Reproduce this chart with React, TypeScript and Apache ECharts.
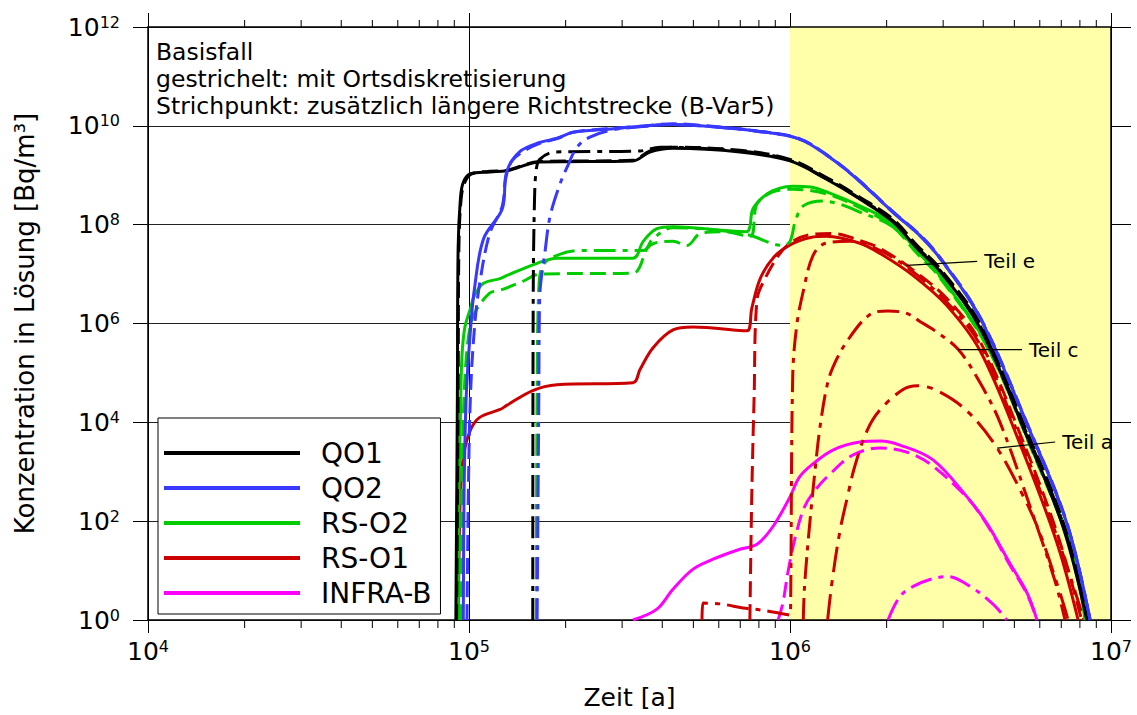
import React, { useEffect, useRef } from "react";
import * as echarts from "echarts";

const FONT = "'DejaVu Sans', sans-serif";

// Zeit [a] / Konzentration in Lösung [Bq/m³]
// QO1
const qo1Basis = [[9.1e4, 1], [9.2e4, 3.2e4], [9.25e4, 3.3e7], [9.4e4, 3.3e8], [9.6e4, 7.2e8], [1.01e5, 1.07e9], [1.16e5, 1.17e9], [1.31e5, 1.23e9], [1.66e5, 1.86e9], [3.24e5, 1.95e9], [3.66e5, 2.95e9], [4.32e5, 3.5e9], [6.98e5, 2.95e9], [1e6, 1.95e9], [1.3e6, 8.3e8], [1.65e6, 3.3e8], [2.09e6, 1.15e8], [2.49e6, 3.3e7], [2.93e6, 1.15e7], [3.91e6, 8.1e5], [5.32e6, 8000], [7.08e6, 78], [8.41e6, 1]];
const qo1Ort = [[9.15e4, 1], [9.25e4, 3.2e4], [9.3e4, 3.3e7], [9.45e4, 3.3e8], [9.7e4, 7.2e8], [1.02e5, 1.07e9], [1.16e5, 1.2e9], [1.31e5, 1.26e9], [1.66e5, 1.9e9], [3.24e5, 2.0e9], [3.66e5, 3.1e9], [4.32e5, 3.7e9], [6.98e5, 3.2e9], [1e6, 2.1e9], [1.3e6, 9e8], [1.65e6, 3.6e8], [2.09e6, 1.3e8], [2.49e6, 3.8e7], [2.93e6, 1.3e7], [3.91e6, 1e6], [5.32e6, 1e4], [7.08e6, 100], [8.5e6, 1]];
const qo1Var5 = [[1.58e5, 1], [1.585e5, 3.2e6], [1.6e5, 3.3e8], [1.62e5, 1.3e9], [1.66e5, 2.1e9], [1.85e5, 2.95e9], [3.41e5, 3.1e9], [3.94e5, 3.7e9], [5.25e5, 3.5e9], [7.5e5, 2.95e9], [1e6, 2.0e9], [1.3e6, 8.5e8], [1.65e6, 3.4e8], [2.09e6, 1.2e8], [2.49e6, 3.5e7], [2.93e6, 1.2e7], [3.91e6, 9e5], [5.32e6, 9000], [7.08e6, 90], [8.45e6, 1]];

// QO2
const qo2Basis = [[9.6e4, 1], [9.65e4, 310], [9.8e4, 3.2e4], [1.01e5, 7.1e5], [1.04e5, 5.1e6], [1.11e5, 5.2e7], [1.27e5, 2.1e8], [1.31e5, 1.17e9], [1.44e5, 3e9], [1.66e5, 4.6e9], [1.88e5, 5.6e9], [2.11e5, 7.4e9], [2.69e5, 8.5e9], [4.32e5, 1.07e10], [5.51e5, 9.8e9], [7.89e5, 7.8e9], [1.07e6, 5.4e9], [1.33e6, 2.3e9], [1.62e6, 8.3e8], [2.09e6, 1.8e8], [2.54e6, 6e7], [2.93e6, 2.1e7], [3.91e6, 1.3e6], [5.48e6, 9100], [7.29e6, 89], [8.61e6, 1]];
const qo2Ort = [[9.86e4, 1], [9.95e4, 310], [1.01e5, 3.2e4], [1.04e5, 8.1e5], [1.08e5, 6.5e6], [1.16e5, 6.6e7], [1.27e5, 2.4e8], [1.3e5, 8.3e8], [1.36e5, 1.95e9], [1.5e5, 3.2e9], [1.66e5, 4.4e9], [1.88e5, 5.5e9], [2.11e5, 7.4e9], [2.69e5, 8.7e9], [3.41e5, 9.8e9], [4.32e5, 1.1e10], [5.51e5, 1.0e10], [7.89e5, 7.9e9], [1.07e6, 5.5e9], [1.33e6, 2.35e9], [1.62e6, 8.5e8], [2.09e6, 1.85e8], [2.54e6, 6.2e7], [2.93e6, 2.2e7], [3.91e6, 1.35e6], [5.48e6, 9500], [7.29e6, 92], [8.61e6, 1]];
const qo2Var5 = [[1.63e5, 1], [1.65e5, 3.2e4], [1.66e5, 3.2e6], [1.73e5, 3.3e7], [1.79e5, 1.5e8], [1.92e5, 6.6e8], [2.03e5, 1.55e9], [2.17e5, 3.7e9], [2.38e5, 5.9e9], [2.75e5, 8.1e9], [3.41e5, 9.6e9], [4.32e5, 1.07e10], [5.51e5, 9.8e9], [7.89e5, 7.8e9], [1.07e6, 5.4e9], [1.33e6, 2.3e9], [1.62e6, 8.3e8], [2.09e6, 1.8e8], [2.54e6, 6e7], [2.93e6, 2.1e7], [3.91e6, 1.3e6], [5.48e6, 9100], [7.29e6, 89], [8.61e6, 1]];

// RS-O2
const rso2Basis = [[9.25e4, 1], [9.3e4, 310], [9.4e4, 1.26e4], [9.5e4, 2e5], [9.7e4, 8.1e5], [1.01e5, 2e6], [1.04e5, 3.7e6], [1.11e5, 6.5e6], [1.25e5, 8.1e6], [1.31e5, 9.3e6], [1.63e5, 1.65e7], [1.88e5, 2.1e7], [3.24e5, 2.1e7], [3.49e5, 4.6e7], [3.85e5, 8.3e7], [4.32e5, 9.1e7], [7.34e5, 7.2e7], [7.5e5, 9.1e7], [7.67e5, 2.1e8], [8.48e5, 4.2e8], [9.3e5, 5.5e8], [1.02e6, 6e8], [1.16e6, 5.8e8], [1.3e6, 4.6e8], [1.65e6, 2.4e8], [2.09e6, 1.05e8], [2.49e6, 2.9e7], [2.93e6, 9.3e6], [4.11e6, 3.7e5], [5.6e6, 3600], [7.45e6, 35], [8.3e6, 1]];
const rso2Ort = [[9.44e4, 1], [9.5e4, 310], [9.65e4, 3.2e4], [9.95e4, 5.1e5], [1.04e5, 1.6e6], [1.16e5, 4.1e6], [1.25e5, 4.7e6], [1.47e5, 7.1e6], [1.66e5, 1e7], [3.24e5, 1.05e7], [3.66e5, 3.8e7], [4.32e5, 4.6e7], [4.78e5, 3.8e7], [5.25e5, 6.6e7], [6.18e5, 7.2e7], [7.5e5, 5.8e7], [7.89e5, 2.6e8], [8.85e5, 4.6e8], [1.02e6, 5.2e8], [1.3e6, 4.2e8], [1.65e6, 2.2e8], [2.09e6, 9.1e7], [2.49e6, 2.6e7], [2.93e6, 8.5e6], [4.11e6, 3.4e5], [5.6e6, 3300], [7.45e6, 32], [8.35e6, 1]];
const rso2Var5 = [[1.62e5, 1], [1.63e5, 3.2e4], [1.65e5, 5.1e6], [1.7e5, 1.5e7], [1.88e5, 2.4e7], [2.22e5, 3e7], [3.49e5, 3e7], [3.74e5, 5.2e7], [4.32e5, 8.7e7], [5.25e5, 8.3e7], [7.34e5, 6.3e7], [9.5e5, 3.8e7], [1e6, 4.6e7], [1.04e6, 1.2e8], [1.1e6, 2.4e8], [1.27e6, 3e8], [1.43e6, 2.6e8], [1.65e6, 1.8e8], [2.09e6, 9.1e7], [2.49e6, 2.9e7], [2.93e6, 8.9e6], [4.11e6, 3.5e5], [5.6e6, 3500], [7.45e6, 34], [8.35e6, 1]];

// RS-O1
const rso1Basis = [[9.25e4, 1], [9.31e4, 19], [9.4e4, 310], [9.6e4, 2000], [1.01e5, 6900], [1.08e5, 1.26e4], [1.25e5, 1.82e4], [1.31e5, 2.2e4], [1.58e5, 4.4e4], [1.88e5, 5.75e4], [3.24e5, 6.3e4], [3.41e5, 1.17e5], [3.74e5, 3.2e5], [4.32e5, 7.4e5], [4.99e5, 8.5e5], [7.34e5, 7.1e5], [7.6e5, 2e6], [8.07e5, 8e6], [8.85e5, 2.1e7], [1e6, 3.9e7], [1.16e6, 5.5e7], [1.3e6, 5.8e7], [1.65e6, 4.2e7], [1.91e6, 2.6e7], [2.42e6, 9.3e6], [3.08e6, 2.3e6], [3.91e6, 2.8e5], [5.21e6, 3600], [6.8e6, 35], [7.9e6, 1]];
const rso1Ort = [[7.5e5, 1], [7.6e5, 310], [7.73e5, 3.2e4], [7.89e5, 3e6], [8.36e5, 8.1e6], [9.3e5, 2.6e7], [1.02e6, 4.6e7], [1.16e6, 6.3e7], [1.36e6, 6.6e7], [1.65e6, 4.8e7], [1.91e6, 3.3e7], [2.42e6, 1.2e7], [3.08e6, 3.2e6], [3.91e6, 4.3e5], [5.21e6, 5800], [6.8e6, 56], [8.1e6, 1]];
const rso1Var5 = [[5.32e5, 1], [5.36e5, 2.2], [6.14e5, 2.1], [7.14e5, 1.75], [8.07e5, 1.6], [1e6, 1.26], [1.005e6, 3], [1.02e6, 9.1e4], [1.05e6, 9.3e5], [1.1e6, 4.5e6], [1.18e6, 2.4e7], [1.29e6, 4.2e7], [1.54e6, 4.6e7], [1.91e6, 3e7], [2.42e6, 1.1e7], [3.08e6, 2.7e6], [3.91e6, 3.7e5], [5.21e6, 4600], [6.8e6, 47], [8.24e6, 1]];
const rso1TeilC = [[1.1e6, 1], [1.11e6, 4.8], [1.15e6, 78], [1.2e6, 1260], [1.24e6, 8000], [1.3e6, 5e4], [1.36e6, 1.3e5], [1.51e6, 4.5e5], [1.77e6, 1.5e6], [2.02e6, 1.8e6], [2.31e6, 1.6e6], [2.54e6, 1.1e6], [2.83e6, 7.1e5], [3.34e6, 3e5], [3.91e6, 6.3e4], [4.51e6, 1e4], [5.6e6, 195], [6.7e6, 6], [7.19e6, 1]];
const rso1TeilA = [[1.31e6, 1], [1.35e6, 5.5], [1.43e6, 62], [1.51e6, 310], [1.59e6, 1260], [1.74e6, 6900], [1.91e6, 1.8e4], [2.25e6, 4.6e4], [2.49e6, 5.5e4], [2.87e6, 4.4e4], [3.56e6, 1.7e4], [4.42e6, 3000], [5.4e6, 270], [6.01e6, 56], [6.94e6, 3.5], [7.35e6, 1]];

// INFRA-B
const infraBasis = [[3.24e5, 1], [3.85e5, 1.66], [4.32e5, 4.2], [4.99e5, 10.7], [5.76e5, 17], [6.98e5, 27], [7.89e5, 34], [8.85e5, 78], [1e6, 310], [1.07e6, 780], [1.18e6, 1450], [1.36e6, 2750], [1.65e6, 4000], [1.91e6, 4170], [2.2e6, 3470], [2.79e6, 1740], [3.56e6, 310], [4.11e6, 89], [4.84e6, 14], [5.48e6, 3.5], [5.88e6, 1]];
const infraOrt = [[9.18e5, 1], [9.5e5, 2.2], [9.86e5, 9.5], [1.04e6, 49], [1.11e6, 195], [1.2e6, 430], [1.33e6, 890], [1.57e6, 2180], [1.91e6, 3020], [2.31e6, 2500], [2.73e6, 1440], [3.56e6, 300], [4.11e6, 85], [4.84e6, 13], [5.48e6, 3.3], [5.88e6, 1]];
const infraVar5 = [[2.02e6, 1], [2.2e6, 3], [2.42e6, 4.8], [2.73e6, 6.6], [3.1e6, 7.6], [3.64e6, 4.8], [4.29e6, 2.1], [4.74e6, 1]];

const legendNames = ["QO1", "QO2", "RS-O2", "RS-O1", "INFRA-B"];
const colors = { QO1: "#000000", QO2: "#3838ff", "RS-O2": "#00cc00", "RS-O1": "#cc0000", "INFRA-B": "#ff00ff" };

const timeRange = [1e4, 1e7];
const concRange = [1, 1e12];
const shadedRange = [1e6, 1e7];
const minorTimes = [2e4, 3e4, 4e4, 5e4, 6e4, 7e4, 8e4, 9e4, 2e5, 3e5, 4e5, 5e5, 6e5, 7e5, 8e5, 9e5, 2e6, 3e6, 4e6, 5e6, 6e6, 7e6, 8e6, 9e6];

const noteLines = ["Basisfall", "gestrichelt: mit Ortsdiskretisierung", "Strichpunkt: zusätzlich längere Richtstrecke (B-Var5)"];
const teilNames = ["Teil e", "Teil c", "Teil a"];
// leader: from [t, c] on the curve to [t, c] at the label
const teilLeaders = [[2.31e6, 1.5e7, 3.83e6, 1.8e7], [3.34e6, 2.95e5, 5.28e6, 2.95e5], [4.42e6, 3000, 6.7e6, 4000]];

const DASHED = [16, 7];
const DASHDOT = [22, 7, 5, 7];
const LONGDASHDOT = [26, 8, 6, 8];

function curve(name: string, data: number[][], color: string, dash: any) {
  return {
    type: "line",
    name,
    data,
    color,
    symbol: "none",
    showSymbol: false,
    smooth: 0.35,
    silent: true,
    z: 2,
    lineStyle: { color, width: 3, type: dash, cap: "butt", join: "round" },
  };
}

const expLabel = {
  formatter: (v: number) => `{b|10}{e|${Math.round(Math.log10(v))}}`,
  rich: {
    b: { fontSize: 25, fontFamily: FONT, color: "#000", lineHeight: 26 },
    e: { fontSize: 16, fontFamily: FONT, color: "#000", lineHeight: 16, verticalAlign: "top" },
  },
};

export default function App() {
  const ref = useRef<HTMLDivElement>(null);

  useEffect(() => {
    const chart = echarts.init(ref.current!, undefined, { renderer: "svg" });
    const axisLine = { show: true, lineStyle: { color: "#000", width: 1.5 } };
    const option: any = {
      animation: false,
      backgroundColor: "#fff",
      grid: { left: 148, right: 26, top: 27, bottom: 91, containLabel: false },
      xAxis: [
        {
          type: "log", logBase: 10, min: timeRange[0], max: timeRange[1], position: "bottom", z: 1,
          name: "Zeit [a]", nameLocation: "middle", nameGap: 65,
          nameTextStyle: { fontSize: 25, fontFamily: FONT, color: "#000" },
          axisLine, axisTick: { show: true, length: 13, lineStyle: { color: "#000", width: 1 } },
          axisLabel: { ...expLabel, margin: 18 },
          splitLine: { show: true, lineStyle: { color: "#000", width: 1 } },
          minorTick: { show: false }, minorSplitLine: { show: false },
        },
        {
          type: "log", logBase: 10, min: timeRange[0], max: timeRange[1], position: "top", z: 1,
          axisLine, axisTick: { show: true, length: 14, lineStyle: { color: "#000", width: 1 } },
          axisLabel: { show: false }, splitLine: { show: false },
        },
      ],
      yAxis: [
        {
          type: "log", logBase: 100, min: concRange[0], max: concRange[1], position: "left", z: 1,
          name: "Konzentration in Lösung [Bq/m³]", nameLocation: "middle", nameGap: 110,
          nameTextStyle: { fontSize: 26, fontFamily: FONT, color: "#000" },
          axisLine, axisTick: { show: true, length: 15, lineStyle: { color: "#000", width: 1 } },
          axisLabel: { ...expLabel, margin: 28 },
          splitLine: { show: true, lineStyle: { color: "#222", width: 1 } },
        },
        {
          type: "log", logBase: 100, min: concRange[0], max: concRange[1], position: "right", z: 1,
          axisLine, axisTick: { show: true, length: 20, lineStyle: { color: "#000", width: 1 } },
          axisLabel: { show: false }, splitLine: { show: false },
        },
      ],
      legend: {
        data: legendNames,
        orient: "vertical", left: 158, top: 418,
        icon: "rect", itemWidth: 136, itemHeight: 4, itemGap: 5,
        padding: [20, 9, 6, 6],
        backgroundColor: "#fff", borderColor: "#000", borderWidth: 1,
        selectedMode: false, z: 6,
        textStyle: { fontSize: 28, fontFamily: FONT, color: "#000", lineHeight: 30, padding: [0, 0, 0, 16] },
      },
      graphic: [
        {
          type: "text", x: 156, y: 39, z: 10,
          style: { text: noteLines.join("\n"), fontSize: 23.5, fontFamily: FONT, lineHeight: 26.7, fill: "#000", verticalAlign: "top" },
        },
      ],
      series: [
        {
          type: "line", name: "Bereich", data: [], z: 0, silent: true,
          markArea: { silent: true, itemStyle: { color: "#ffffaa" }, data: [[{ xAxis: shadedRange[0] }, { xAxis: shadedRange[1] }]] },
        },
        curve("INFRA-B B-Var5", infraVar5, colors["INFRA-B"], DASHDOT),
        curve("INFRA-B Ort", infraOrt, colors["INFRA-B"], DASHED),
        curve("INFRA-B", infraBasis, colors["INFRA-B"], "solid"),
        curve("RS-O1 Teil a", rso1TeilA, colors["RS-O1"], LONGDASHDOT),
        curve("RS-O1 Teil c", rso1TeilC, colors["RS-O1"], DASHDOT),
        curve("RS-O1 B-Var5", rso1Var5, colors["RS-O1"], DASHDOT),
        curve("RS-O1 Ort", rso1Ort, colors["RS-O1"], DASHED),
        curve("RS-O1", rso1Basis, colors["RS-O1"], "solid"),
        curve("RS-O2 B-Var5", rso2Var5, colors["RS-O2"], DASHDOT),
        curve("RS-O2 Ort", rso2Ort, colors["RS-O2"], DASHED),
        curve("RS-O2", rso2Basis, colors["RS-O2"], "solid"),
        curve("QO1 B-Var5", qo1Var5, colors.QO1, DASHDOT),
        curve("QO1 Ort", qo1Ort, colors.QO1, DASHED),
        curve("QO1", qo1Basis, colors.QO1, "solid"),
        curve("QO2 B-Var5", qo2Var5, colors.QO2, DASHDOT),
        curve("QO2 Ort", qo2Ort, colors.QO2, DASHED),
        curve("QO2", qo2Basis, colors.QO2, "solid"),
        {
          type: "custom", name: "Nebenteilung", silent: true, z: 3, clip: false,
          data: minorTimes.map((t) => [t, concRange[0]]),
          renderItem: (_p: any, api: any) => {
            const t = api.value(0);
            const b = api.coord([t, concRange[0]]);
            const top = api.coord([t, concRange[1]]);
            const st = { stroke: "#000", lineWidth: 1 };
            return {
              type: "group",
              children: [
                { type: "line", shape: { x1: b[0], y1: b[1], x2: b[0], y2: b[1] + 8 }, style: st },
                { type: "line", shape: { x1: top[0], y1: top[1], x2: top[0], y2: top[1] - 7 }, style: st },
              ],
            };
          },
        },
        {
          type: "custom", name: "Teile", silent: true, z: 4, clip: false,
          data: teilLeaders.map((d, i) => [...d, i]),
          renderItem: (_p: any, api: any) => {
            const a = api.coord([api.value(0), api.value(1)]);
            const b = api.coord([api.value(2), api.value(3)]);
            const name = teilNames[api.value(4)];
            return {
              type: "group",
              children: [
                { type: "line", shape: { x1: a[0], y1: a[1], x2: b[0], y2: b[1] }, style: { stroke: "#000", lineWidth: 1.2 } },
                { type: "text", x: b[0] + 7, y: b[1], style: { text: name, fontSize: 20, fontFamily: FONT, fill: "#000", align: "left", verticalAlign: "middle" } },
              ],
            };
          },
        },
      ],
    };
    chart.setOption(option);
    return () => chart.dispose();
  }, []);

  return <div ref={ref} style={{ position: "fixed", left: 0, top: 0, width: 1137, height: 715, background: "#fff" }} />;
}
